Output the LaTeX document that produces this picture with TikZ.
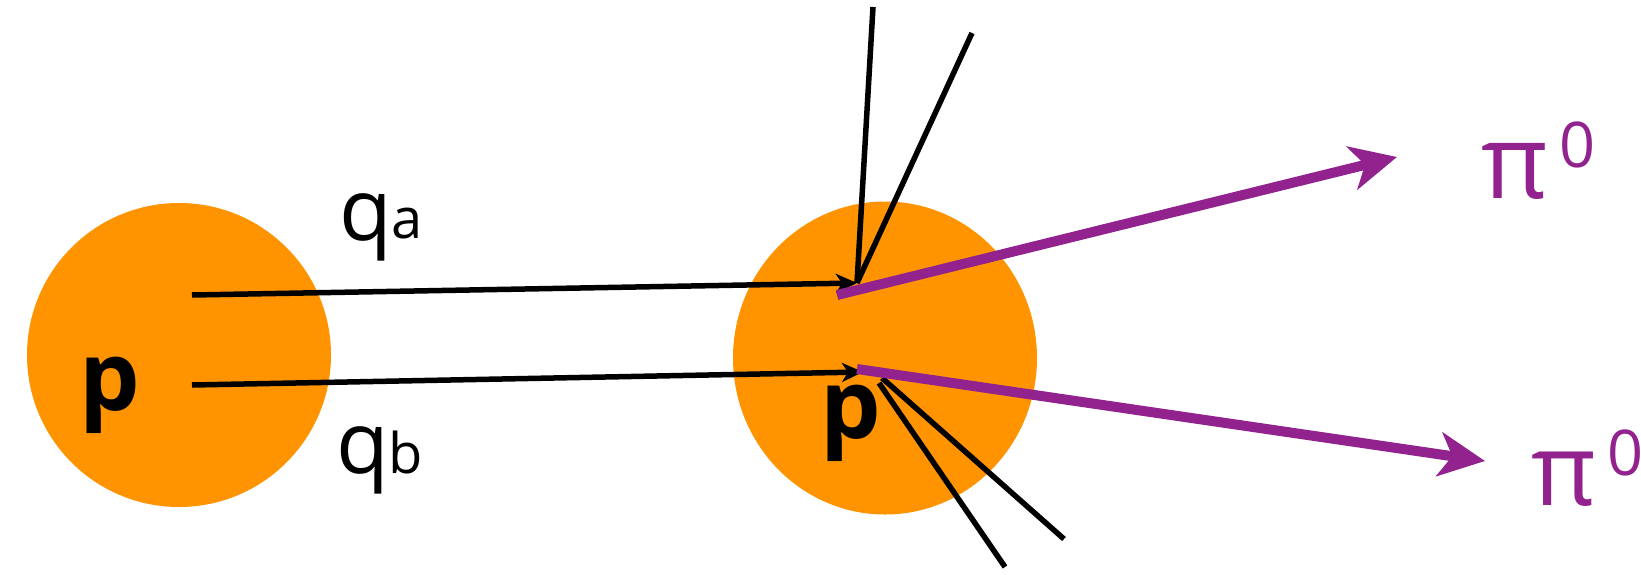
\documentclass[tikz,border=0pt]{standalone}
\usepackage{fontspec}
\setmainfont{Open Sans}
\usetikzlibrary{arrows.meta,shapes.geometric}
\definecolor{porange}{RGB}{255,148,0}
\definecolor{ppurple}{RGB}{146,34,142}
\tikzset{
  proton/.style={fill=porange, draw=none, inner sep=0pt},
  quark/.style={draw=black, line width=5.5pt, -{Stealth[length=21pt,width=19pt,inset=6pt]}},
  jet/.style={draw=black, line width=5.5pt},
  pion/.style={draw=ppurple, line width=10pt, -{Stealth[length=46pt,width=44pt,inset=13pt]}},
  lbl/.style={inner sep=0pt, anchor=base west},
}
\begin{document}
\begin{tikzpicture}[x=1pt,y=-1pt]
\useasboundingbox (0,0) rectangle (1641,574);
% protons
\node[proton, circle, minimum size=304pt] (pa) at (179,355) {};
\node[proton, ellipse, minimum width=304pt, minimum height=313pt] (pb) at (885,358) {};
% coordinates
\coordinate (qas) at (192,295);
\coordinate (qbs) at (192,385);
\coordinate (va) at (857,283);
\coordinate (vb) at (863,372);
\coordinate (ja1) at (873,7);
\coordinate (ja2) at (972,33);
\coordinate (jb1s) at (882,378);
\coordinate (jb1) at (1064,539);
\coordinate (jb2s) at (879,383);
\coordinate (jb2) at (1005,567);
\coordinate (pias) at (837,295);
\coordinate (piae) at (1397,157);
\coordinate (pibs) at (857,369);
\coordinate (pibe) at (1485,461);
% jets
\draw[jet] (ja1) -- (va);
\draw[jet] (ja2) -- (va);
\draw[jet] (jb1s) -- (jb1);
\draw[jet] (jb2s) -- (jb2);
% quarks
\draw[quark] (qas) -- (va);
\draw[quark] (qbs) -- (vb);
% pions
\draw[pion] (pias) -- (piae);
\draw[pion] (pibs) -- (pibe);
% labels
\node[lbl] (lpa) at (79,410) {\fontsize{96}{96}\selectfont\bfseries p};
\node[lbl] (lpb) at (820,438) {\fontsize{96}{96}\selectfont\bfseries p};
\node[lbl] (lqa) at (339,240) {\fontsize{86}{86}\selectfont q};
\node[lbl] (lqas) at (391,238) {\fontsize{56}{56}\selectfont a};
\node[lbl] (lqb) at (336,473) {\fontsize{86}{86}\selectfont q};
\node[lbl] (lqbs) at (388,473) {\fontsize{56}{56}\selectfont b};
\node[lbl, text=ppurple] (lpia) at (1481,198) {\fontsize{103}{103}\selectfont π};
\node[lbl, text=ppurple] (lpias) at (1559,167) {\fontsize{63}{63}\selectfont 0};
\node[lbl, text=ppurple] (lpib) at (1531,505) {\fontsize{100}{100}\selectfont π};
\node[lbl, text=ppurple] (lpibs) at (1607,475) {\fontsize{63}{63}\selectfont 0};
\end{tikzpicture}
\end{document}
